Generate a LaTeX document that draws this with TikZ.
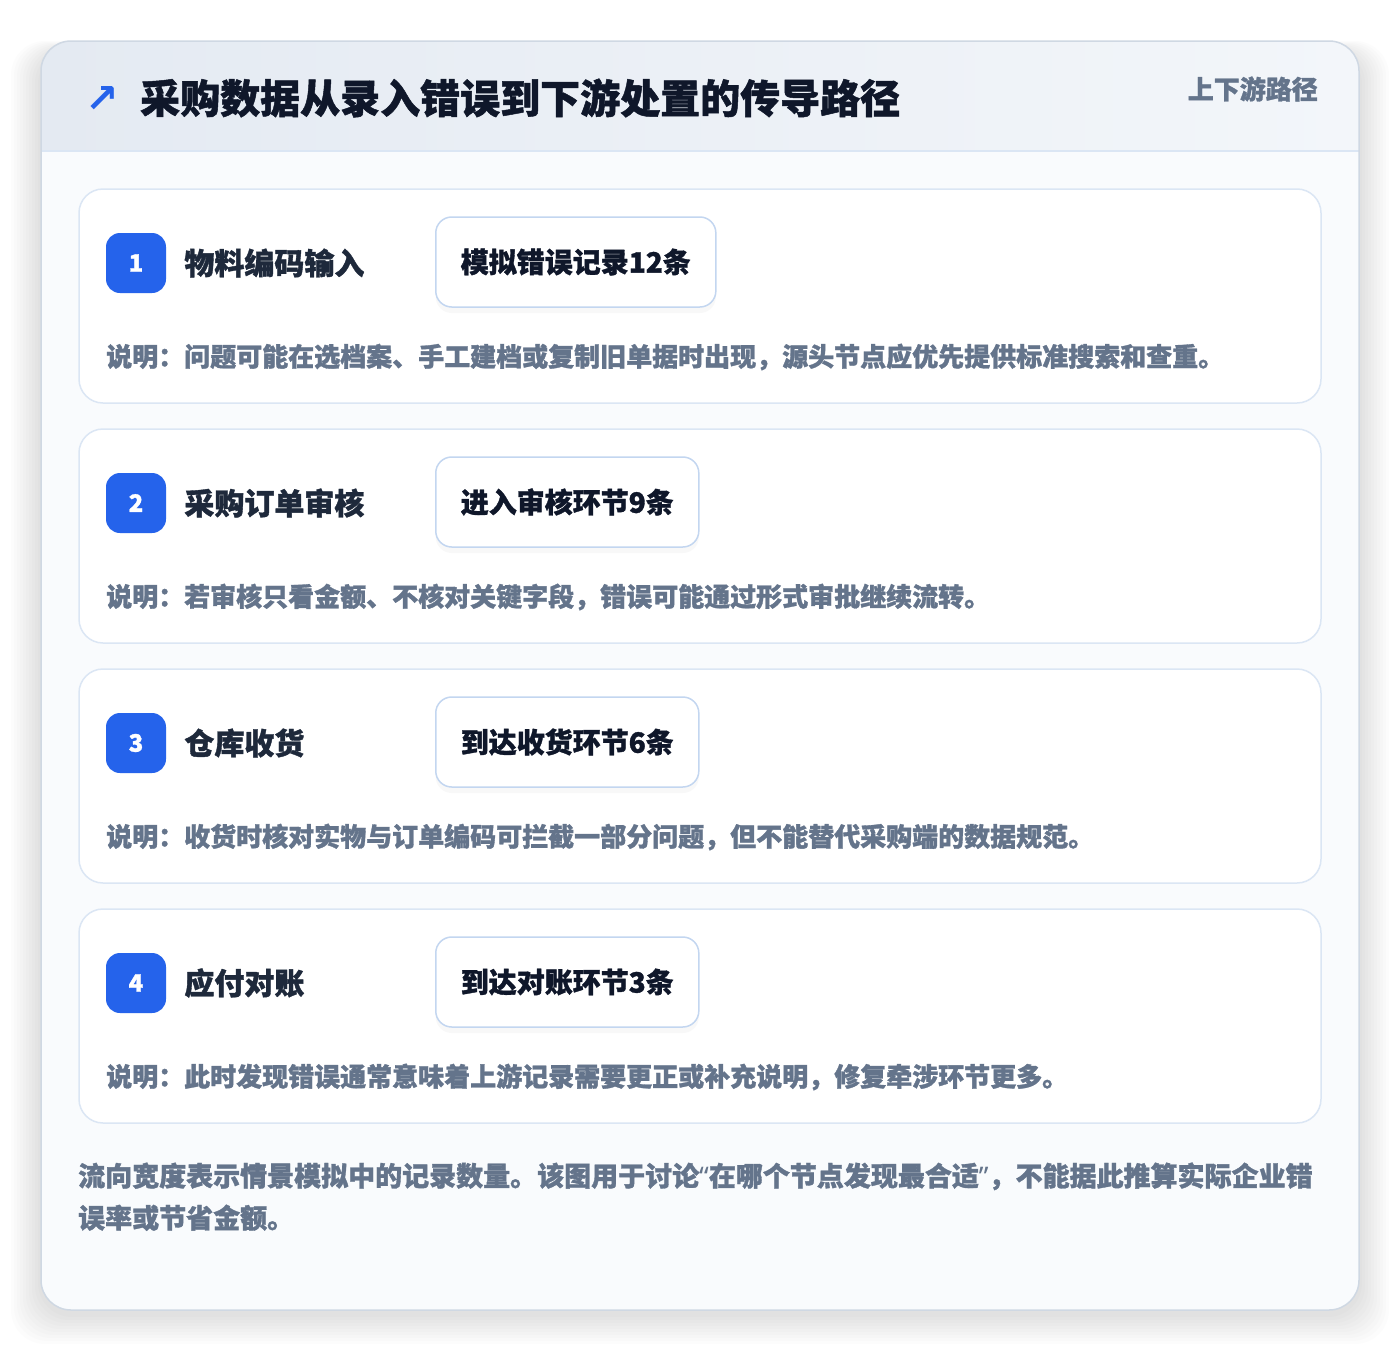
\documentclass[tikz,border=0pt]{standalone}
\usepackage{fontspec}
\setmainfont{Noto Sans CJK SC}[BoldFeatures={FakeBold=1.2}]
\newfontfamily\symfont{DejaVu Sans}
\newfontfamily\quotefont{Noto Sans}
\usetikzlibrary{positioning}
\usetikzlibrary{shadows}
\definecolor{mblue}{HTML}{2563EB}
\definecolor{mink}{HTML}{0F172A}
\definecolor{mdark}{HTML}{1E293B}
\definecolor{mgray}{HTML}{64748B}
\definecolor{mline}{HTML}{DBE6F4}
\definecolor{mframe}{HTML}{CFD8E3}
\definecolor{mboxline}{HTML}{C3D6F0}
\definecolor{mhead}{HTML}{E4EAF2}
\definecolor{mheadr}{HTML}{F3F6FA}
\definecolor{mbody}{HTML}{F9FBFD}
\tikzset{card/.style = {draw=mline, line width=1.5, fill=white, rounded corners=24}}
\tikzset{numbox/.style = {fill=mblue, rounded corners=14, minimum size=60, inner sep=0,
    text=white, font=\fontsize{24}{28}\selectfont\bfseries}}
\tikzset{steptitle/.style = {anchor=west, inner sep=0, text=mdark,
    font=\fontsize{30}{36}\selectfont\bfseries}}
\tikzset{countbox/.style = {anchor=west, draw=mboxline, line width=1.5, fill=white,
    rounded corners=16, minimum height=90, inner xsep=25, inner ysep=0, text=mink,
    font=\fontsize{28}{34}\selectfont\bfseries,
    drop shadow={shadow xshift=0pt, shadow yshift=-6pt, opacity=0.05}}}
\tikzset{desc/.style = {anchor=west, inner sep=0, text=mgray,
    font=\fontsize{26}{31}\selectfont\bfseries}}

\begin{document}
\begin{tikzpicture}[x=1pt, y=-1pt]
    \useasboundingbox (0,0) rectangle (1400,1352);
    \fill[white] (0,0) rectangle (1400,1352);

    % soft shadow under the panel
    \foreach \k in {1,...,10}
      \fill[black, opacity=0.01, rounded corners=34]
        (41-\k*3, 51-\k) rectangle (1359+\k*3, 1314+\k*3);

    \fill[mbody, rounded corners=30] (41,41) rectangle (1359,1310);
    \begin{scope}
      \clip[rounded corners=30] (41,41) rectangle (1359,1310);
      \shade[left color=mhead, right color=mheadr] (41,41) rectangle (1359,151);
    \end{scope}
    \draw[mline, line width=1.5] (41,151) -- (1359,151);
    \draw[mframe, line width=1.5, rounded corners=30] (41,41) rectangle (1359,1310);

    \node [inner sep=0, text=mblue, font=\symfont\bfseries\fontsize{40}{40}\selectfont] (icon) at (102,99) {↗};
    \node [anchor=west, inner sep=0, text=mink, font=\fontsize{40}{48}\selectfont\bfseries]
      (title) at (140,98) {采购数据从录入错误到下游处置的传导路径};
    \node [anchor=east, inner sep=0, text=mgray, font=\fontsize{26}{31}\selectfont\bfseries]
      (tag) at (1318,89) {上下游路径};

    \draw[card] (79,189) rectangle (1321,403);
    \node [numbox] (n1) at (136,263) {1};
    \node [steptitle, right=18pt of n1] (t1) {物料编码输入};
    \node [countbox] (c1) at (435,262) {模拟错误记录12条};
    \node [desc] (d1) at (106,357) {说明：问题可能在选档案、手工建档或复制旧单据时出现，源头节点应优先提供标准搜索和查重。};

    \draw[card] (79,429) rectangle (1321,643);
    \node [numbox] (n2) at (136,503) {2};
    \node [steptitle, right=18pt of n2] (t2) {采购订单审核};
    \node [countbox] (c2) at (435,502) {进入审核环节9条};
    \node [desc] (d2) at (106,597) {说明：若审核只看金额、不核对关键字段，错误可能通过形式审批继续流转。};

    \draw[card] (79,669) rectangle (1321,883);
    \node [numbox] (n3) at (136,743) {3};
    \node [steptitle, right=18pt of n3] (t3) {仓库收货};
    \node [countbox] (c3) at (435,742) {到达收货环节6条};
    \node [desc] (d3) at (106,837) {说明：收货时核对实物与订单编码可拦截一部分问题，但不能替代采购端的数据规范。};

    \draw[card] (79,909) rectangle (1321,1123);
    \node [numbox] (n4) at (136,983) {4};
    \node [steptitle, right=18pt of n4] (t4) {应付对账};
    \node [countbox] (c4) at (435,982) {到达对账环节3条};
    \node [desc] (d4) at (106,1077) {说明：此时发现错误通常意味着上游记录需要更正或补充说明，修复牵涉环节更多。};

    \node [anchor=base west, inner sep=0, align=left, text=mgray,
      font=\fontsize{27}{42}\selectfont\bfseries] (note) at (78,1228)
      {流向宽度表示情景模拟中的记录数量。该图用于讨论{\quotefont“}在哪个节点发现最合适{\quotefont”}，不能据此推算实际企业错\\误率或节省金额。};
  \end{tikzpicture}
\end{document}
